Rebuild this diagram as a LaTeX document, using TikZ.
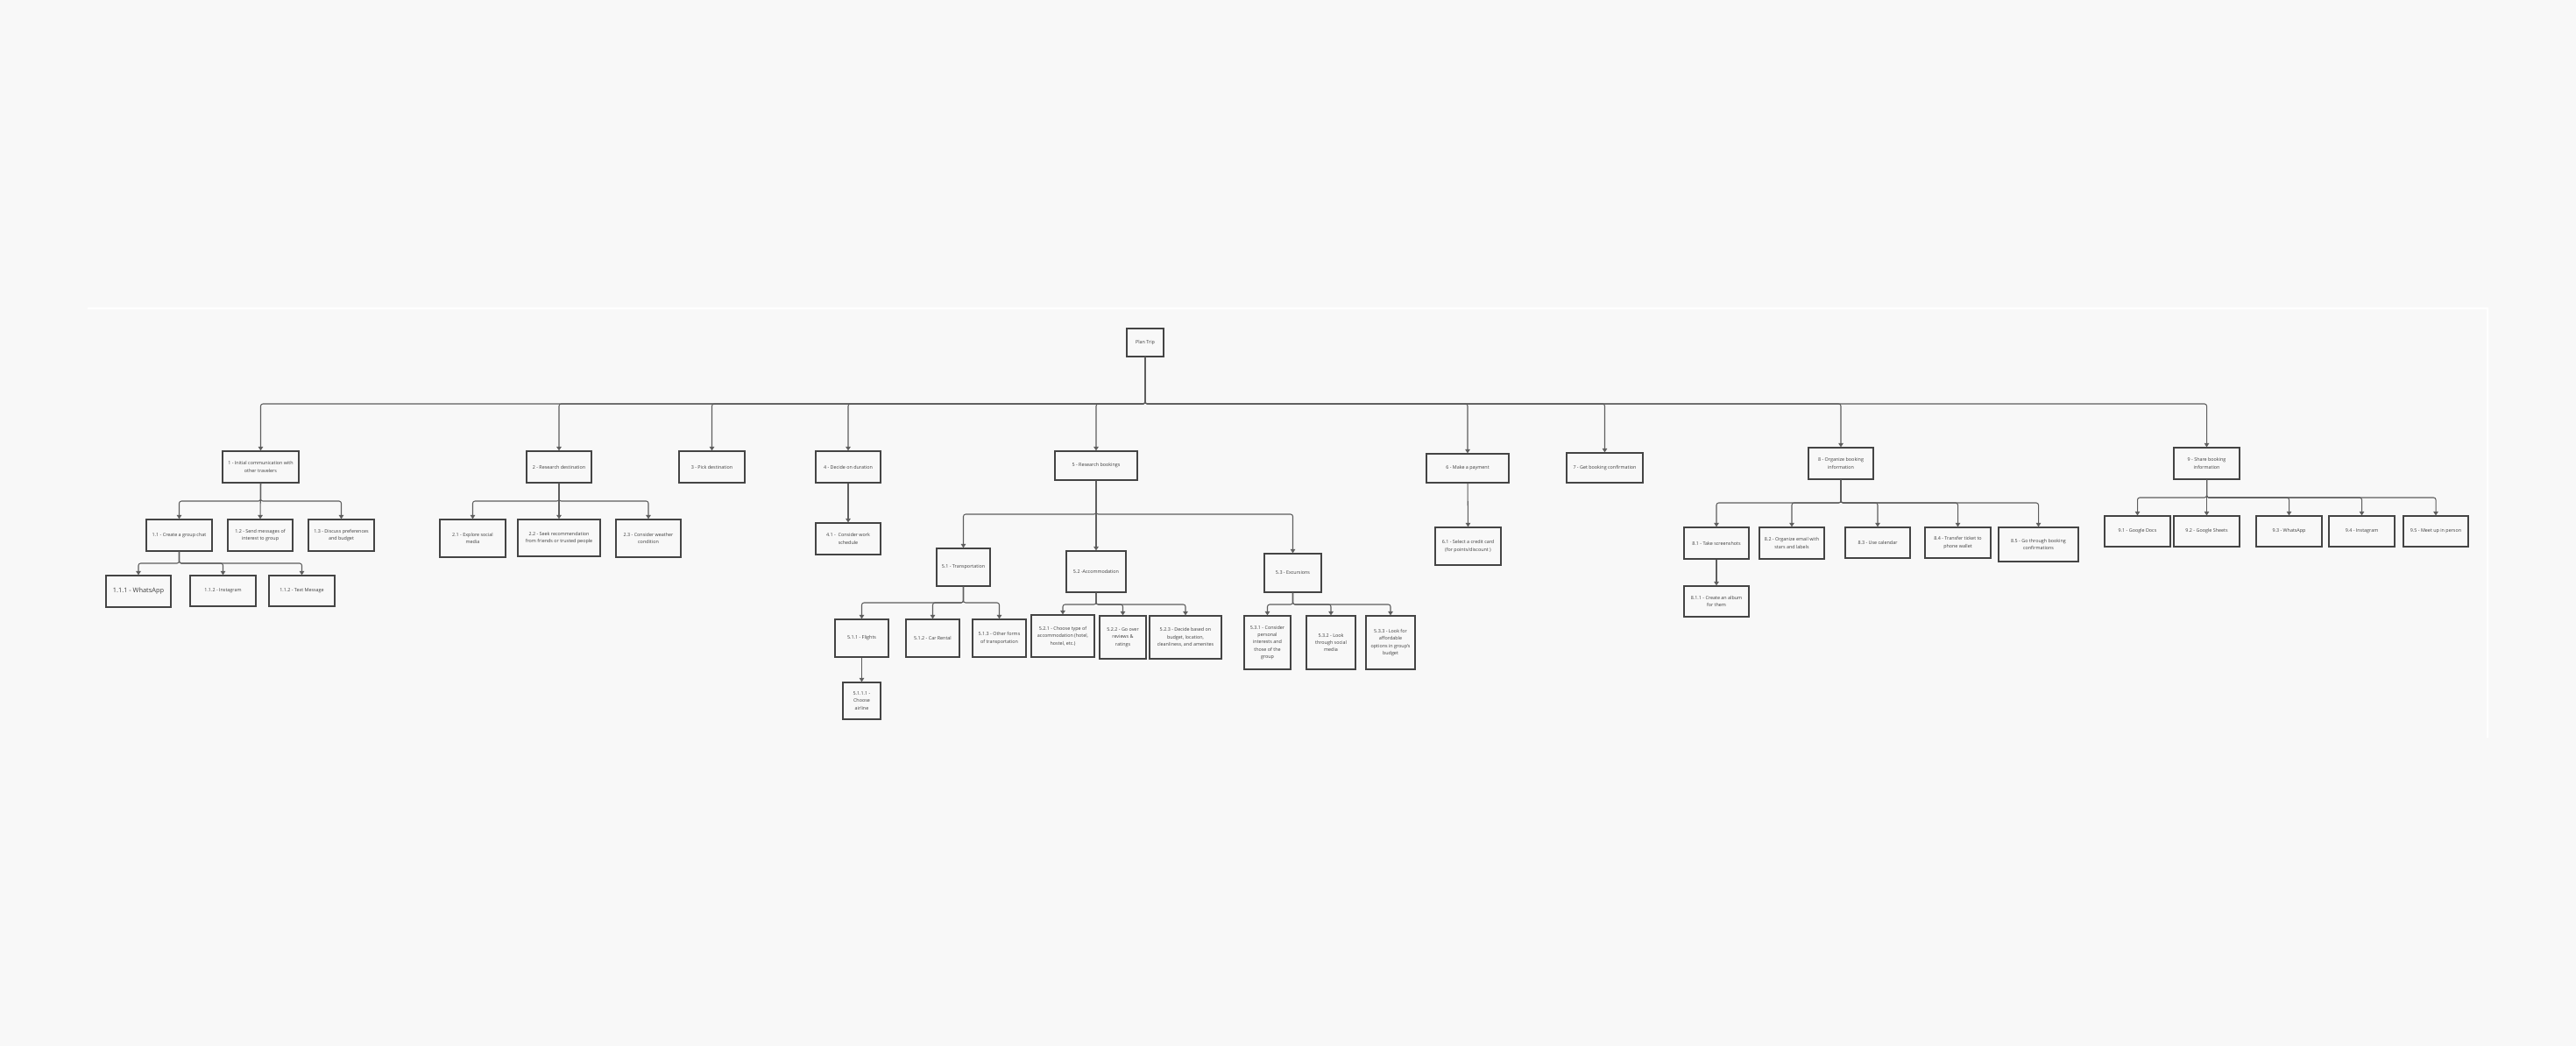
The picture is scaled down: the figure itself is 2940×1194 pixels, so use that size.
\documentclass[tikz,border=0pt]{standalone}
\usepackage{fontspec}
\setmainfont{Open Sans}
\usetikzlibrary{arrows.meta}
\definecolor{bgc}{HTML}{F8F8F8}
\definecolor{boxline}{HTML}{444444}
\definecolor{txt}{HTML}{3C3C3C}
\definecolor{linec}{HTML}{5E5E5E}
\tikzset{
 box/.style={draw=boxline, line width=1.2pt, fill=bgc, inner sep=0pt, align=center, text=txt, font=\fontsize{5.4}{8.4}\selectfont},
 conn/.style={draw=linec, line width=1.05pt, rounded corners=2.5pt, -{Triangle[width=5.5pt,length=4.5pt]}},
 big/.style={font=\fontsize{7.4}{9}\selectfont}
}
\newcommand{\bx}[7][]{\node[box,#1,minimum width={#5-#3},minimum height={#6-#4}] (#2) at ({(#3+#5)/2},{(#4+#6)/2}) {#7};}
\newcommand{\tc}[3]{\draw[conn] (#1.south) -- (#1.south |- 0,#3) -| (#2.north);}
\newcommand{\dc}[2]{\draw[conn] (#1.south) -- (#2.north);}
\begin{document}
\begin{tikzpicture}[x=1pt,y=-1pt]
\fill[bgc] (0,0) rectangle (2940,1194);
\useasboundingbox (0,0) rectangle (2940,1194);
\draw[white, line width=1.2pt] (100,352) -- (2839,352) -- (2839,842);

% root
\bx{root}{1286}{375}{1328}{407}{Plan Trip}

% level 1
\bx{n1}{254}{515}{341}{551}{1 - Initial communication with\\other travelers}
\bx{n2}{601}{515}{675}{551}{2 - Research destination}
\bx{n3}{775}{515}{850}{551}{3 - Pick destination}
\bx{n4}{931}{515}{1005}{551}{4 - Decide on duration}
\bx{n5}{1204}{515}{1298}{548}{5 - Research bookings}
\bx{n6}{1628}{518}{1722}{551}{6 - Make a payment}
\bx{n7}{1788}{517}{1875}{551}{7 - Get booking confirmation}
\bx{n8}{2064}{511}{2138}{547}{8 - Organize booking\\information}
\bx{n9}{2481}{511}{2556}{547}{9 - Share booking\\information}

% branch 1
\bx{n11}{167}{593}{242}{629}{1.1 - Create a group chat}
\bx{n12}{260}{593}{334}{629}{1.2 - Send messages of\\interest to group}
\bx{n13}{352}{593}{427}{629}{1.3 - Discuss preferences\\and budget}
\bx[big]{n111}{121}{657}{195}{693}{1.1.1 - WhatsApp}
\bx{n112}{217}{657}{292}{692}{1.1.2 - Instagram}
\bx{n113}{307}{657}{382}{692}{1.1.2 - Text Message}

% branch 2
\bx{n21}{502}{593}{577}{636}{2.1 - Explore social\\media}
\bx{n22}{591}{593}{685}{635}{2.2 - Seek recommendation\\from friends or trusted people}
\bx{n23}{703}{593}{777}{636}{2.3 - Consider weather\\condition}

% branch 4
\bx{n41}{931}{597}{1005}{633}{4.1 - \ Consider work\\schedule}

% branch 5
\bx{n51}{1069}{626}{1130}{669}{5.1 - Transportation}
\bx{n52}{1217}{629}{1285}{676}{5.2 -Accommodation}
\bx{n53}{1443}{632}{1508}{676}{5.3 - Excursions}
\bx{n511}{953}{707}{1014}{750}{5.1.1 - Flights}
\bx{n512}{1034}{707}{1095}{750}{5.1.2 - Car Rental}
\bx{n513}{1110}{707}{1171}{750}{5.1.3 - Other forms\\of transportation}
\bx{n5111}{962}{779}{1005}{821}{5.1.1.1 -\\Choose\\airline}
\bx{n521}{1177}{702}{1249}{750}{5.2.1 - Choose type of\\accommodation (hotel,\\hostel, etc.)}
\bx{n522}{1255}{703}{1308}{752}{5.2.2 - Go over\\reviews \&\\ratings}
\bx{n523}{1312}{703}{1394}{752}{5.2.3 - Decide based on\\budget, location,\\cleanliness, and amenites}
\bx{n531}{1420}{703}{1473}{764}{5.3.1 - Consider\\personal\\interests and\\those of the\\group}
\bx{n532}{1491}{703}{1547}{764}{5.3.2 - Look\\through social\\media}
\bx{n533}{1559}{703}{1615}{764}{5.3.3 - Look for\\affordable\\options in group's\\budget}

% branch 6
\bx{n61}{1638}{602}{1713}{645}{6.1 - Select a credit card\\(for points/discount )}

% branch 8
\bx{n81}{1922}{602}{1996}{638}{8.1 - Take screenshots}
\bx{n82}{2008}{602}{2082}{638}{8.2 - Organize email with\\stars and labels}
\bx{n83}{2106}{602}{2180}{637}{8.3 - Use calendar}
\bx{n84}{2197}{602}{2272}{637}{8.4 - Transfer ticket to\\phone wallet}
\bx{n85}{2281}{602}{2372}{641}{8.5 - Go through booking\\confirmations}
\bx{n811}{1922}{669}{1996}{704}{8.1.1 - Create an album\\for them}

% branch 9
\bx{n91}{2402}{589}{2477}{624}{9.1 - Google Docs}
\bx{n92}{2481}{589}{2556}{624}{9.2 - Google Sheets}
\bx{n93}{2575}{589}{2650}{624}{9.3 - WhatsApp}
\bx{n94}{2658}{589}{2733}{624}{9.4 - Instagram}
\bx{n95}{2743}{589}{2817}{624}{9.5 - Meet up in person}

% connectors: root
\foreach \c in {n1,n2,n3,n4,n5,n6,n7,n8,n9} {\tc{root}{\c}{461}}
% branch 1
\tc{n1}{n11}{572}
\dc{n1}{n12}
\tc{n1}{n13}{572}
\tc{n11}{n111}{643}
\tc{n11}{n112}{643}
\tc{n11}{n113}{643}
% branch 2
\tc{n2}{n21}{572}
\dc{n2}{n22}
\tc{n2}{n23}{572}
% branch 4
\dc{n4}{n41}
% branch 5
\tc{n5}{n51}{587}
\dc{n5}{n52}
\tc{n5}{n53}{587}
\tc{n51}{n511}{688}
\tc{n51}{n512}{688}
\tc{n51}{n513}{688}
\dc{n511}{n5111}
\tc{n52}{n521}{690}
\tc{n52}{n522}{690}
\tc{n52}{n523}{690}
\tc{n53}{n531}{690}
\tc{n53}{n532}{690}
\tc{n53}{n533}{690}
% branch 6
\dc{n6}{n61}
% branch 8
\tc{n8}{n81}{574}
\tc{n8}{n82}{574}
\tc{n8}{n83}{574}
\tc{n8}{n84}{574}
\tc{n8}{n85}{574}
\dc{n81}{n811}
% branch 9
\tc{n9}{n91}{568}
\dc{n9}{n92}
\tc{n9}{n93}{568}
\tc{n9}{n94}{568}
\tc{n9}{n95}{568}
\end{tikzpicture}
\end{document}
